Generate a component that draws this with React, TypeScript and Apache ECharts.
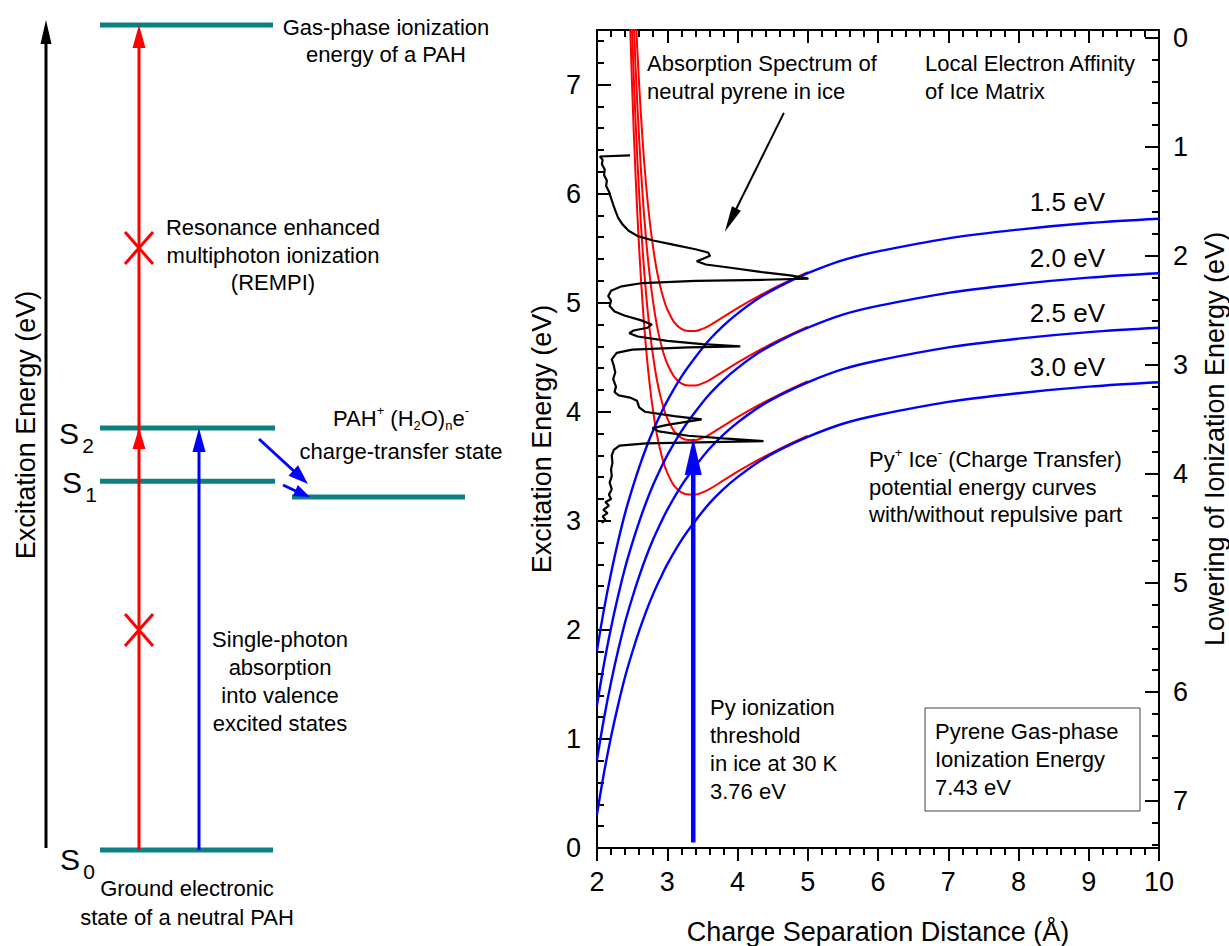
import React, { useEffect, useRef } from 'react';
import * as echarts from 'echarts';

const FONT = '"Liberation Sans", Arial, Helvetica, sans-serif';
const RED = '#ff0000';
const BLUE = '#0000ff';
const TEAL = '#0c8080';

// Charge separation distances (Å) along the Coulomb-only curves
const coulombR = [2.0, 2.1, 2.2, 2.3, 2.4, 2.5, 2.6, 2.7, 2.8, 2.9, 3.0, 3.2, 3.4, 3.6, 3.8, 4.0, 4.3, 4.6, 5.0, 5.5, 6.0, 7.0, 8.0, 9.0, 10.0];
// Py+ Ice- energies (eV) without repulsion, one list per local electron affinity
const coulombEA15 = [1.81, 2.19, 2.52, 2.81, 3.07, 3.29, 3.49, 3.67, 3.83, 3.97, 4.1, 4.32, 4.5, 4.66, 4.79, 4.9, 5.04, 5.15, 5.27, 5.39, 5.47, 5.59, 5.67, 5.73, 5.77];
const coulombEA20 = [1.31, 1.69, 2.02, 2.31, 2.57, 2.79, 2.99, 3.17, 3.33, 3.47, 3.6, 3.82, 4.0, 4.16, 4.29, 4.4, 4.54, 4.65, 4.77, 4.89, 4.97, 5.09, 5.17, 5.23, 5.27];
const coulombEA25 = [0.81, 1.19, 1.52, 1.81, 2.07, 2.29, 2.49, 2.67, 2.83, 2.97, 3.1, 3.32, 3.5, 3.66, 3.79, 3.9, 4.04, 4.15, 4.27, 4.39, 4.47, 4.59, 4.67, 4.73, 4.77];
const coulombEA30 = [0.31, 0.69, 1.02, 1.31, 1.57, 1.79, 1.99, 2.17, 2.33, 2.47, 2.6, 2.82, 3.0, 3.16, 3.29, 3.4, 3.54, 3.65, 3.77, 3.89, 3.97, 4.09, 4.17, 4.23, 4.27];

// The same curves including the short-range repulsive wall
const repulsiveR = [2.45, 2.5, 2.55, 2.6, 2.65, 2.7, 2.75, 2.8, 2.85, 2.9, 2.95, 3.0, 3.1, 3.2, 3.3, 3.4, 3.5, 3.6, 3.8, 4.0, 4.3, 4.6, 5.0];
const repulsiveEA15 = [9.53, 8.48, 7.65, 7.0, 6.48, 6.07, 5.75, 5.5, 5.3, 5.15, 5.03, 4.94, 4.82, 4.76, 4.74, 4.74, 4.76, 4.79, 4.87, 4.95, 5.06, 5.16, 5.28];
const repulsiveEA20 = [9.03, 7.98, 7.15, 6.5, 5.98, 5.57, 5.25, 5.0, 4.8, 4.65, 4.53, 4.44, 4.32, 4.26, 4.24, 4.24, 4.26, 4.29, 4.37, 4.45, 4.56, 4.66, 4.78];
const repulsiveEA25 = [8.53, 7.48, 6.65, 6.0, 5.48, 5.07, 4.75, 4.5, 4.3, 4.15, 4.03, 3.94, 3.82, 3.76, 3.74, 3.74, 3.76, 3.79, 3.87, 3.95, 4.06, 4.16, 4.28];
const repulsiveEA30 = [8.03, 6.98, 6.15, 5.5, 4.98, 4.57, 4.25, 4.0, 3.8, 3.65, 3.53, 3.44, 3.32, 3.26, 3.24, 3.24, 3.26, 3.29, 3.37, 3.45, 3.56, 3.66, 3.78];

const affinityLabels = ['1.5 eV', '2.0 eV', '2.5 eV', '3.0 eV'];

// Absorption spectrum of neutral pyrene in ice: [trace position, photon energy (eV)]
const spectrum: number[][] = [
  [2.47, 6.35], [2.04, 6.34], [2.08, 6.31], [2.07, 6.27], [2.11, 6.22], [2.1, 6.17], [2.14, 6.12], [2.13, 6.07],
  [2.17, 6.02], [2.2, 5.96], [2.23, 5.9], [2.27, 5.83], [2.3, 5.78], [2.36, 5.72], [2.45, 5.66], [2.58, 5.61],
  [2.8, 5.57], [3.1, 5.53], [3.4, 5.49], [3.58, 5.46], [3.61, 5.43], [3.5, 5.4], [3.42, 5.38], [3.55, 5.35],
  [3.9, 5.32], [4.35, 5.28], [4.75, 5.25], [5.01, 5.22], [4.4, 5.21], [3.4, 5.2], [2.65, 5.18], [2.35, 5.15],
  [2.2, 5.11], [2.16, 5.06], [2.2, 5.02], [2.18, 4.97], [2.25, 4.92], [2.4, 4.88], [2.62, 4.84], [2.78, 4.8],
  [2.72, 4.77], [2.52, 4.745], [2.46, 4.72], [2.58, 4.69], [3.0, 4.65], [3.5, 4.62], [4.04, 4.6], [3.3, 4.59],
  [2.5, 4.57], [2.28, 4.54], [2.21, 4.48], [2.24, 4.42], [2.26, 4.36], [2.23, 4.3], [2.27, 4.23], [2.25, 4.18],
  [2.31, 4.15], [2.47, 4.13], [2.57, 4.1], [2.6, 4.04], [2.68, 4.0], [3.1, 3.96], [3.49, 3.93], [3.0, 3.88],
  [2.79, 3.85], [2.88, 3.82], [3.3, 3.78], [3.8, 3.755], [4.37, 3.73], [2.7, 3.71], [2.32, 3.69], [2.24, 3.65],
  [2.21, 3.6], [2.22, 3.53], [2.2, 3.47], [2.21, 3.41], [2.18, 3.35], [2.21, 3.29], [2.17, 3.24], [2.2, 3.2],
  [2.12, 3.17], [2.17, 3.14], [2.09, 3.1], [2.15, 3.07], [2.08, 3.04], [2.12, 3.01], [2.07, 2.98],
];

// Ionization threshold of pyrene in ice and its gas-phase ionization energy
const thresholdR = 3.37;
const thresholdStart = 0.05;
const thresholdEnergy = 3.76;
const gasPhaseIE = 7.43;
// Pointer from the spectrum caption to the trace: [x1, y1, x2, y2]
const spectrumPointer = [4.66, 6.74, 3.82, 5.65];

// Energy levels of the schematic (eV)
const levelS0 = 0;
const levelS1 = 3.32;
const levelS2 = 3.8;
const levelCT = 3.18;

const pairs = (xs: number[], ys: number[]) => xs.map((x, i) => [x, ys[i]]);

const intLabel = (v: number) => {
  const r = Math.round(v);
  if (Math.abs(v - r) > 1e-6) return '';
  return String(r === 0 ? 0 : r);
};

function arrowRenderer(color: string, width: number, headLen: number, headHalf: number) {
  return (_params: any, api: any) => {
    const a = api.coord([api.value(0), api.value(1)]);
    const b = api.coord([api.value(2), api.value(3)]);
    const dx = b[0] - a[0];
    const dy = b[1] - a[1];
    const d = Math.hypot(dx, dy) || 1;
    const ux = dx / d;
    const uy = dy / d;
    const bx = b[0] - ux * headLen;
    const by = b[1] - uy * headLen;
    const sx = b[0] - ux * headLen * 0.7;
    const sy = b[1] - uy * headLen * 0.7;
    return {
      type: 'group',
      children: [
        { type: 'line', shape: { x1: a[0], y1: a[1], x2: sx, y2: sy }, style: { stroke: color, lineWidth: width } },
        {
          type: 'polygon',
          shape: { points: [[b[0], b[1]], [bx - uy * headHalf, by + ux * headHalf], [bx + uy * headHalf, by - ux * headHalf]] },
          style: { fill: color },
        },
      ],
    };
  };
}

function text(x: number, y: number, str: string, size: number, align: string, vAlign: string, lineHeight?: number, extra?: any) {
  return {
    type: 'text',
    x,
    y,
    silent: true,
    z: 20,
    ...(extra || {}),
    style: {
      text: str,
      fontSize: size,
      fontFamily: FONT,
      fill: '#000',
      align,
      verticalAlign: vAlign,
      textAlign: align,
      textVerticalAlign: vAlign,
      lineHeight: lineHeight || Math.round(size * 1.25),
    },
  };
}

function richText(x: number, y: number, str: string, align: string, vAlign: string, lineHeight: number) {
  const base = { fontSize: 22, fontFamily: FONT, fill: '#000', color: '#000', lineHeight };
  const small = { fontSize: 13, fontFamily: FONT, fill: '#000', color: '#000', lineHeight: 14 };
  return {
    type: 'text',
    x,
    y,
    silent: true,
    z: 20,
    style: {
      text: str,
      fontSize: 22,
      fontFamily: FONT,
      fill: '#000',
      align,
      verticalAlign: vAlign,
      textAlign: align,
      textVerticalAlign: vAlign,
      lineHeight,
      rich: {
        r: base,
        sup: { ...small, verticalAlign: 'top' },
        sub: { ...small, verticalAlign: 'bottom' },
      },
    },
  };
}

function diagramGraphics(): any[] {
  const yE = (e: number) => 850 - (e / gasPhaseIE) * 825;
  const seg = (x1: number, y1: number, x2: number, y2: number, stroke: string, lineWidth: number) => ({
    type: 'line',
    silent: true,
    z: 10,
    shape: { x1, y1, x2, y2 },
    style: { stroke, lineWidth },
  });
  const head = (tx: number, ty: number, fx: number, fy: number, len: number, half: number, fill: string) => {
    const dx = tx - fx;
    const dy = ty - fy;
    const d = Math.hypot(dx, dy) || 1;
    const ux = dx / d;
    const uy = dy / d;
    const bx = tx - ux * len;
    const by = ty - uy * len;
    return {
      type: 'polygon',
      silent: true,
      z: 11,
      shape: { points: [[tx, ty], [bx - uy * half, by + ux * half], [bx + uy * half, by - ux * half]] },
      style: { fill },
    };
  };
  const cross = (cx: number, cy: number) => [
    seg(cx - 14, cy - 16, cx + 14, cy + 16, RED, 3),
    seg(cx - 14, cy + 16, cx + 14, cy - 16, RED, 3),
  ];

  const yIE = yE(gasPhaseIE);
  const yS2 = yE(levelS2);
  const yS1 = yE(levelS1);
  const yS0 = yE(levelS0);
  const yCT = yE(levelCT);

  return [
    // energy axis
    seg(46, 848, 46, 38, '#000', 3),
    head(46, 20, 46, 100, 24, 5.5, '#000'),
    text(26, 425, 'Excitation Energy (eV)', 27, 'center', 'middle', 30, { rotation: Math.PI / 2 }),
    // levels
    seg(100, yIE, 273, yIE, TEAL, 5),
    seg(100, yS2, 275, yS2, TEAL, 5),
    seg(100, yS1, 275, yS1, TEAL, 5),
    seg(100, yS0, 273, yS0, TEAL, 5),
    seg(292, yCT, 465, yCT, TEAL, 5),
    // REMPI path
    seg(139, yS0, 139, yIE + 16, RED, 3),
    head(139, yIE, 139, yS0, 23, 6.5, RED),
    head(139, yS2, 139, yS0, 21, 6.5, RED),
    ...cross(139, 248),
    ...cross(139, 630),
    // single-photon absorption
    seg(199, yS0, 199, yS2 + 16, BLUE, 3),
    head(199, yS2, 199, yS0, 24, 6.5, BLUE),
    // relaxation into the charge-transfer state
    seg(259, 439, 296, 473, BLUE, 3),
    head(308, 484, 259, 439, 20, 7, BLUE),
    seg(283, 485, 300, 493, BLUE, 3),
    head(310, 497, 283, 485, 16, 6, BLUE),
    // state labels
    text(69, 433, 'S', 30, 'center', 'middle'),
    text(88, 445, '2', 21, 'center', 'middle'),
    text(72, 482, 'S', 30, 'center', 'middle'),
    text(91, 494, '1', 21, 'center', 'middle'),
    text(70, 859, 'S', 30, 'center', 'middle'),
    text(89, 871, '0', 21, 'center', 'middle'),
    // captions
    text(386, 14, 'Gas-phase ionization\nenergy of a PAH', 22, 'center', 'top', 27),
    text(273, 214, 'Resonance enhanced\nmultiphoton ionization\n(REMPI)', 22, 'center', 'top', 27.5),
    richText(401, 418, '{r|PAH}{sup|+}{r| (H}{sub|2}{r|O)}{sub|n}{r|e}{sup|-}', 'center', 'middle', 28),
    text(401, 451, 'charge-transfer state', 22, 'center', 'middle'),
    text(280, 625, 'Single-photon\nabsorption\ninto valence\nexcited states', 22, 'center', 'top', 28),
    text(187, 874, 'Ground electronic\nstate of a neutral PAH', 22, 'center', 'top', 29),
  ];
}

function plotGraphics(): any[] {
  const labelY = [202, 258, 313, 367];
  return [
    text(647, 49, 'Absorption Spectrum of\nneutral pyrene in ice', 22, 'left', 'top', 28.4),
    text(925, 49, 'Local Electron Affinity\nof Ice Matrix', 22, 'left', 'top', 28.4),
    ...affinityLabels.map((s, i) => text(1105, labelY[i], s, 26, 'right', 'middle')),
    richText(
      869,
      446,
      '{r|Py}{sup|+}{r| Ice}{sup|-}{r| (Charge Transfer)}\n{r|potential energy curves}\n{r|with/without repulsive part}',
      'left',
      'top',
      27.5
    ),
    text(710, 693, 'Py ionization\nthreshold\nin ice at 30 K\n' + thresholdEnergy.toFixed(2) + ' eV', 22, 'left', 'top', 28),
    {
      type: 'rect',
      silent: true,
      z: 19,
      shape: { x: 925, y: 708, width: 215, height: 103 },
      style: { fill: 'none', stroke: '#444', lineWidth: 1 },
    },
    text(935, 718, 'Pyrene Gas-phase\nIonization Energy\n' + gasPhaseIE.toFixed(2) + ' eV', 22, 'left', 'top', 27.8),
  ];
}

function buildOption(): any {
  const axisLine = { show: true, onZero: false, lineStyle: { color: '#000', width: 2 } };
  const tickStyle = { color: '#000', width: 2 };
  const labelStyle = { fontSize: 27, color: '#000', fontFamily: FONT };
  const nameStyle = { fontSize: 27, color: '#000', fontFamily: FONT };

  const redCurves = [repulsiveEA15, repulsiveEA20, repulsiveEA25, repulsiveEA30].map((ys) => ({
    type: 'line',
    data: pairs(repulsiveR, ys),
    symbol: 'none',
    showSymbol: false,
    smooth: 0.35,
    silent: true,
    z: 2,
    lineStyle: { color: RED, width: 2 },
  }));
  const blueCurves = [coulombEA15, coulombEA20, coulombEA25, coulombEA30].map((ys) => ({
    type: 'line',
    data: pairs(coulombR, ys),
    symbol: 'none',
    showSymbol: false,
    smooth: 0.35,
    silent: true,
    z: 3,
    lineStyle: { color: BLUE, width: 2.4 },
  }));

  return {
    animation: false,
    backgroundColor: '#fff',
    textStyle: { fontFamily: FONT },
    grid: { left: 597, right: 70, top: 30, bottom: 98, containLabel: false, outerBoundsMode: 'none' },
    xAxis: [
      {
        type: 'value',
        min: 2,
        max: 10,
        interval: 1,
        position: 'bottom',
        axisLine,
        axisTick: { show: true, inside: false, length: 13, lineStyle: tickStyle },
        minorTick: { show: true, splitNumber: 5, length: 7, lineStyle: tickStyle },
        splitLine: { show: false },
        minorSplitLine: { show: false },
        axisLabel: { ...labelStyle, margin: 20 },
        name: 'Charge Separation Distance (Å)',
        nameLocation: 'middle',
        nameGap: 70,
        nameTextStyle: nameStyle,
      },
      {
        type: 'value',
        min: 2,
        max: 10,
        interval: 1,
        position: 'top',
        axisLine,
        axisTick: { show: true, inside: true, length: 13, lineStyle: tickStyle },
        minorTick: { show: true, splitNumber: 5, length: 7, lineStyle: tickStyle },
        splitLine: { show: false },
        minorSplitLine: { show: false },
        axisLabel: { show: false },
      },
    ],
    yAxis: [
      {
        type: 'value',
        min: 0,
        max: 7.5,
        interval: 1,
        position: 'left',
        axisLine,
        axisTick: { show: true, inside: true, length: 14, lineStyle: tickStyle },
        minorTick: { show: true, splitNumber: 5, length: 7, lineStyle: tickStyle },
        splitLine: { show: false },
        minorSplitLine: { show: false },
        axisLabel: { ...labelStyle, margin: 16, formatter: intLabel },
        name: 'Excitation Energy (eV)',
        nameLocation: 'middle',
        nameRotate: 90,
        nameGap: 42,
        nameTextStyle: nameStyle,
      },
      {
        type: 'value',
        min: gasPhaseIE - 7.5,
        max: gasPhaseIE,
        splitNumber: 7,
        inverse: true,
        position: 'right',
        axisLine,
        axisTick: { show: true, inside: true, length: 14, lineStyle: tickStyle },
        minorTick: { show: true, splitNumber: 5, length: 7, lineStyle: tickStyle },
        splitLine: { show: false },
        minorSplitLine: { show: false },
        axisLabel: { ...labelStyle, margin: 14, formatter: intLabel },
        name: 'Lowering of Ionization Energy (eV)',
        nameLocation: 'middle',
        nameRotate: 90,
        nameGap: 42,
        nameTextStyle: nameStyle,
      },
    ],
    series: [
      ...redCurves,
      ...blueCurves,
      {
        type: 'line',
        data: spectrum,
        symbol: 'none',
        showSymbol: false,
        silent: true,
        z: 4,
        lineStyle: { color: '#000', width: 2.2 },
      },
      {
        type: 'custom',
        renderItem: arrowRenderer('#000', 2, 26, 5),
        data: [spectrumPointer],
        encode: { x: [0, 2], y: [1, 3] },
        silent: true,
        z: 6,
      },
      {
        type: 'custom',
        renderItem: arrowRenderer(BLUE, 4.5, 37, 8.5),
        data: [[thresholdR, thresholdStart, thresholdR, thresholdEnergy]],
        encode: { x: [0, 2], y: [1, 3] },
        silent: true,
        z: 6,
      },
    ],
    graphic: { elements: [...diagramGraphics(), ...plotGraphics()] },
  };
}

export default function App() {
  const ref = useRef<HTMLDivElement>(null);
  useEffect(() => {
    if (!ref.current) return;
    const chart = echarts.init(ref.current, null, { renderer: 'svg' });
    chart.setOption(buildOption());
    return () => chart.dispose();
  }, []);
  return (
    <div
      ref={ref}
      style={{ position: 'fixed', left: 0, top: 0, width: 1229, height: 946, background: '#fff' }}
    />
  );
}
